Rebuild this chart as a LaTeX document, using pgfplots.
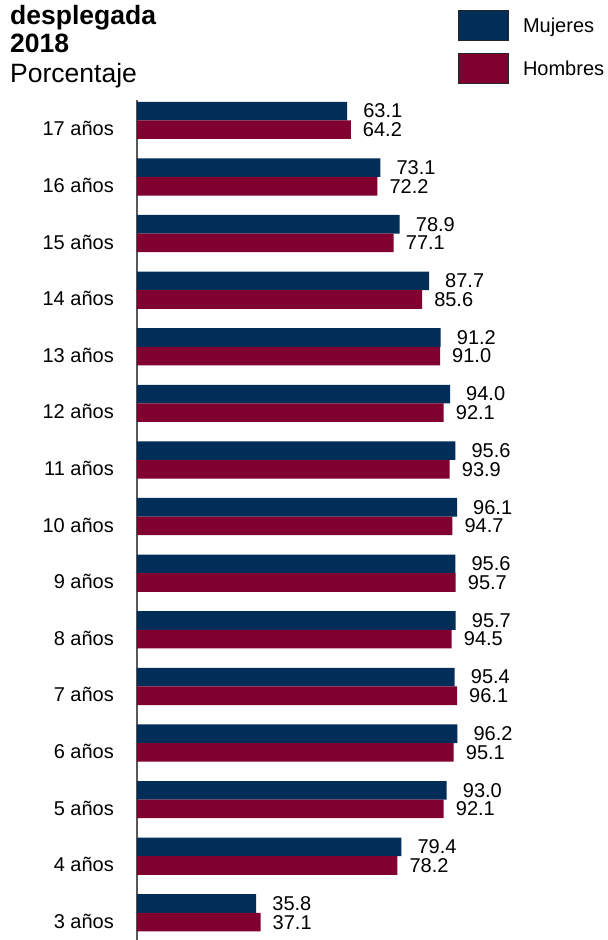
\documentclass[border=0pt]{standalone}
\usepackage{pgfplots}
\pgfplotsset{compat=1.18}
\usepackage{fontspec}
\setmainfont{Liberation Sans}
\definecolor{navy}{RGB}{0,46,89}
\definecolor{wine}{RGB}{128,0,48}
\pgfplotstableread{
y mujeres hombres
0 35.8 37.1
1 79.4 78.2
2 93.0 92.1
3 96.2 95.1
4 95.4 96.1
5 95.7 94.5
6 95.6 95.7
7 96.1 94.7
8 95.6 93.9
9 94.0 92.1
10 91.2 91.0
11 87.7 85.6
12 78.9 77.1
13 73.1 72.2
14 63.1 64.2
}\datatable
\begin{document}
\begin{tikzpicture}
\begin{axis}[
  at={(0,0)}, anchor=south west,
  width=333bp, height=840bp, scale only axis,
  xmin=0, xmax=100, ymin=-0.48, ymax=14.36,
  enlargelimits=false, clip=false,
  axis x line=none,
  axis y line*=left,
  y axis line style={-, draw=black!65, line width=1.5bp},
  xbar, bar width=18.6bp,
  ytick={0,...,14},
  yticklabels={3 años,4 años,5 años,6 años,7 años,8 años,9 años,10 años,11 años,12 años,13 años,14 años,15 años,16 años,17 años},
  major tick length=0pt,
  yticklabel style={font=\fontsize{20bp}{24bp}\selectfont, anchor=east, inner sep=0pt, xshift=-23bp, yshift=-8.5bp},
  /pgf/number format/assume math mode=true,
  nodes near coords={\pgfmathprintnumber[fixed,fixed zerofill,precision=1]{\pgfplotspointmeta}},
  nodes near coords style={font=\fontsize{20bp}{24bp}\selectfont, anchor=west, inner sep=0pt},
  legend style={draw=none, fill=none, at={(0.964,1.107)}, anchor=north west, inner sep=0pt, row sep=12bp,
    font=\fontsize{20bp}{24bp}\selectfont, cells={anchor=west},
    /tikz/every odd column/.append style={column sep=12bp}},
  legend image code/.code={\draw[#1, draw=black!85, line width=0.8bp] (0bp,-15bp) rectangle (50bp,15bp);},
]
\addplot[fill=navy, draw=none, bar shift=9.3bp, nodes near coords style={xshift=16bp}] table[x=mujeres, y=y] {\datatable};
\addlegendentry{Mujeres}
\addplot[fill=wine, draw=none, bar shift=-9.3bp, nodes near coords style={xshift=12bp}] table[x=hombres, y=y] {\datatable};
\addlegendentry{Hombres}
\end{axis}
\node[anchor=base west, inner sep=0pt, font=\fontsize{26.5bp}{30bp}\selectfont\bfseries] at (-127bp,915bp) {desplegada};
\node[anchor=base west, inner sep=0pt, font=\fontsize{26.5bp}{30bp}\selectfont\bfseries] at (-127bp,887bp) {2018};
\node[anchor=base west, inner sep=0pt, font=\fontsize{26.5bp}{30bp}\selectfont] at (-127bp,857bp) {Porcentaje};
\pgfresetboundingbox
\path[use as bounding box] (-137bp,0bp) rectangle (471bp,940bp);
\end{tikzpicture}
\end{document}
